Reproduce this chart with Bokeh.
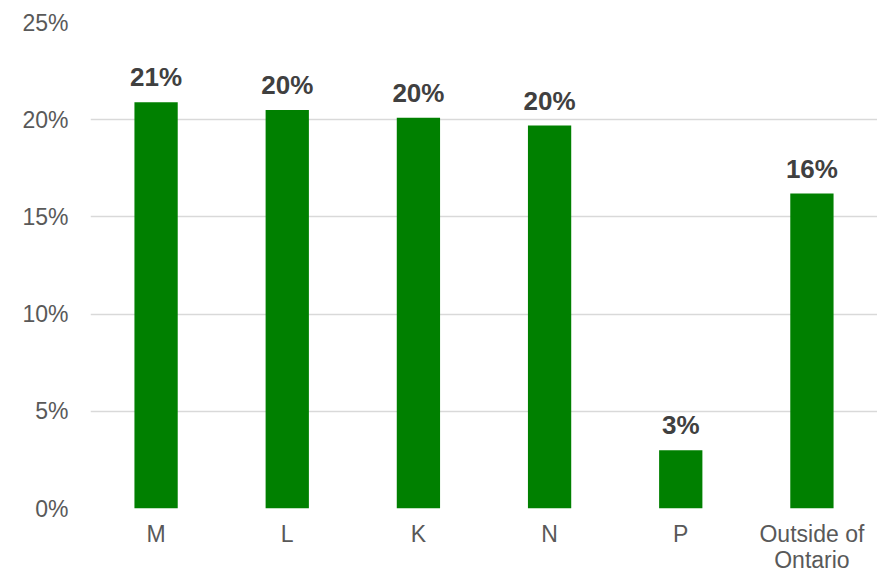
from bokeh.plotting import figure
from bokeh.models import ColumnDataSource, FactorRange, FixedTicker
from bokeh.core.properties import value
from bokeh.embed import file_html
from bokeh.resources import INLINE

categories = ["M", "L", "K", "N", "P", "Outside of\nOntario"]
values = [20.9, 20.5, 20.1, 19.7, 3.0, 16.2]
labels = ["21%", "20%", "20%", "20%", "3%", "16%"]
y_ticks = [0, 5, 10, 15, 20, 25]

src = ColumnDataSource(dict(cat=categories, val=values, lab=labels))

p = figure(width=877, height=575, x_range=FactorRange(*categories), y_range=(0, 25),
           output_backend="svg", toolbar_location=None,
           min_border_left=90, min_border_right=0, min_border_top=22, min_border_bottom=66)
p.outline_line_color = None
p.background_fill_color = "white"

p.vbar(x="cat", top="val", width=0.33, source=src, color="#008000", line_color=None)
p.text(x="cat", y="val", text="lab", source=src, text_align="center", text_baseline="bottom",
       y_offset=-10, text_font=value("Liberation Sans"), text_font_style="bold",
       text_font_size="26px", text_color="#404040")

p.yaxis.ticker = FixedTicker(ticks=y_ticks)
p.yaxis.major_label_overrides = {t: f"{t}%" for t in y_ticks}
for ax in (p.xaxis[0], p.yaxis[0]):
    ax.axis_line_color = None
    ax.major_tick_line_color = None
    ax.minor_tick_line_color = None
    ax.major_label_text_font = "Liberation Sans"
    ax.major_label_text_font_size = "23px"
    ax.major_label_text_color = "#595959"
p.yaxis.major_label_standoff = 16
p.xaxis.major_label_standoff = 6
p.xaxis.major_label_text_line_height = 1.0
p.xgrid.grid_line_color = None
p.ygrid.grid_line_color = "#d9d9d9"
p.ygrid.grid_line_width = 1.5

open("out.html", "w").write(file_html(p, INLINE))
